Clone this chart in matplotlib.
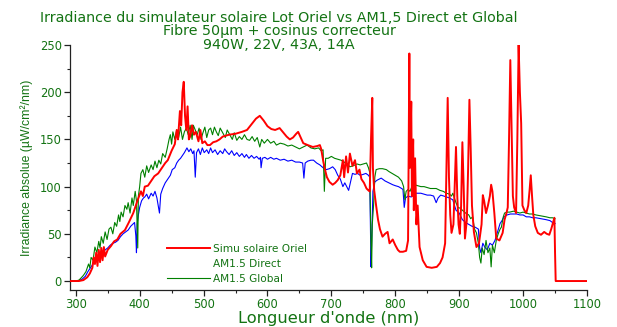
import matplotlib
matplotlib.use('Agg')
import matplotlib.pyplot as plt
from matplotlib.lines import Line2D
from matplotlib.ticker import MultipleLocator

# --- DONNEES ---
WL_SIMU = [290, 305, 312, 318, 322, 326, 328, 330, 332, 334, 336, 338, 340, 342, 344, 346,
           350, 355, 360, 365, 370, 377, 383, 390, 397, 402, 405, 408, 413, 418, 423, 429,
           435, 440, 444, 450, 455, 458, 460, 463, 465, 467, 469, 471, 473, 475, 477, 479,
           482, 485, 488, 492, 495, 498, 502, 506, 510, 515, 520, 525, 530, 540, 550, 560,
           568, 575, 582, 588, 594, 600, 606, 612, 619, 625, 630, 635, 640, 645, 648, 652,
           656, 663, 671, 678, 682, 684, 687, 690, 693, 697, 702, 706, 710, 714, 718, 720,
           723, 726, 729, 733, 737, 740, 744, 747, 751, 755, 758, 760, 762, 764, 765, 767,
           770, 773, 776, 780, 784, 788, 791, 796, 800, 804, 807, 812, 817, 820, 822, 823,
           825, 826, 828, 829, 831, 833, 835, 838, 843, 849, 857, 865, 870, 874, 878, 880,
           882, 884, 886, 888, 891, 893, 895, 897, 899, 901, 903, 905, 907, 909, 912, 914,
           916, 918, 920, 923, 927, 931, 935, 937, 939, 942, 945, 948, 950, 952, 955, 958,
           963, 968, 971, 974, 976, 978, 980, 982, 984, 986, 989, 991, 993, 995, 997, 999,
           1002, 1005, 1008, 1010, 1012, 1014, 1016, 1019, 1023, 1028, 1033, 1037, 1041, 1044,
           1047, 1049, 1050, 1051, 1100]
SIMU = [0, 0, 1, 4, 8, 14, 25, 18, 30, 16, 33, 20, 35, 22, 36, 26,
        33, 37, 42, 44, 50, 54, 62, 72, 86, 95, 90, 100, 101, 106, 111, 114,
        120, 125, 128, 138, 145, 160, 150, 180, 165, 200, 211, 175, 160, 185, 150, 153,
        165, 155, 158, 148, 160, 146, 148, 144, 144, 147, 148, 150, 153, 155, 156, 158,
        160, 166, 172, 175, 170, 164, 161, 160, 162, 157, 153, 150, 152, 156, 158, 152,
        146, 144, 142, 143, 144, 140, 128, 118, 110, 105, 102, 104, 107, 112, 128, 110,
        132, 115, 135, 122, 128, 114, 118, 108, 104, 98, 96, 95, 150, 194, 120, 96,
        80, 65, 55, 47, 50, 52, 40, 44, 38, 33, 31, 31, 32, 43, 241, 120,
        190, 90, 150, 75, 130, 60, 80, 36, 22, 15, 14, 15, 19, 25, 40, 120,
        194, 110, 70, 51, 60, 100, 142, 90, 60, 50, 80, 147, 100, 45, 65, 120,
        192, 140, 80, 52, 36, 40, 60, 91, 85, 72, 80, 90, 102, 95, 72, 45,
        43, 51, 65, 72, 78, 150, 234, 160, 90, 78, 72, 150, 250, 200, 167, 80,
        75, 72, 80, 95, 112, 90, 70, 58, 51, 49, 52, 50, 49, 55,
        62, 67, 30, 0, 0]

WL_GLOBAL = [290, 300, 305, 308, 312, 316, 320, 322, 324, 327, 330, 333, 336, 338, 340, 343,
             346, 349, 352, 355, 358, 361, 364, 367, 369, 371, 374, 377, 380, 382, 385, 388,
             390, 393, 395, 397, 398, 400, 402, 405, 408, 411, 414, 418, 421, 424, 427, 430,
             433, 436, 440, 443, 446, 448, 450, 452, 455, 458, 461, 464, 467, 470, 473, 476,
             479, 482, 484, 487, 490, 493, 496, 499, 502, 505, 508, 511, 514, 517, 520, 523,
             526, 530, 534, 537, 541, 545, 548, 552, 556, 560, 564, 568, 572, 576, 580, 584,
             588, 591, 595, 600, 605, 610, 614, 620, 626, 632, 638, 644, 650, 656, 662, 668,
             674, 680, 684, 687, 689, 691, 695, 700, 705, 710, 715, 720, 725, 729, 734, 740,
             745, 750, 755, 758, 760, 762, 763, 764, 766, 768, 770, 775, 780, 786, 790, 795,
             800, 805, 810, 813, 815, 817, 820, 823, 826, 830, 835, 840, 845, 850, 855, 860,
             864, 870, 875, 880, 885, 888, 890, 893, 895, 898, 902, 905, 910, 915, 918, 921,
             924, 927, 930, 932, 934, 936, 939, 942, 945, 948, 950, 952, 955, 958, 961, 964,
             966, 969, 971, 975, 979, 985, 990, 995, 1000, 1005, 1010, 1015, 1020, 1028, 1036,
             1042, 1046, 1050]
GLOBAL = [0, 0, 1, 3, 6, 10, 18, 14, 25, 22, 36, 30, 42, 35, 47, 40,
          52, 44, 55, 57, 50, 62, 58, 70, 63, 73, 68, 80, 76, 83, 72, 88,
          80, 95, 85, 35, 90, 100, 114, 118, 110, 122, 115, 123, 118, 127, 120, 128,
          124, 135, 131, 140, 150, 155, 145, 158, 150, 160, 152, 163, 150, 158, 162, 155,
          165, 150, 165, 160, 155, 162, 150, 157, 163, 152, 160, 162, 155, 163, 158, 154,
          162, 157, 152, 160, 155, 150, 157, 149, 153, 150, 155, 150, 149, 153, 148, 152,
          142, 150, 146, 150, 146, 148, 144, 146, 145, 143, 144, 142, 140, 142, 144, 141,
          140, 141, 138, 139, 95, 130, 130, 132, 130, 129, 128, 126, 124, 121, 122, 124,
          123, 124, 125, 120, 115, 40, 14, 60, 80, 110, 118, 119, 119, 118, 116, 114,
          112, 110, 106, 100, 86, 95, 97, 95, 100, 102, 101, 100, 100, 99, 98, 98,
          98, 96, 95, 93, 92, 90, 93, 87, 83, 78, 77, 75, 72, 70, 66, 68,
          55, 51, 40, 25, 19, 35, 28, 43, 30, 35, 15, 38, 30, 43, 50, 55,
          57, 68, 72, 73, 73, 74, 73, 72, 73, 72, 71, 71, 70, 69, 68,
          67, 67, 66]

WL_DIRECT = [290, 300, 305, 310, 315, 319, 323, 327, 331, 335, 339, 343, 346, 350, 354, 358,
             362, 366, 370, 374, 378, 382, 386, 389, 392, 394, 395, 396, 398, 400, 403, 406,
             408, 411, 414, 418, 421, 424, 427, 429, 431, 433, 436, 440, 444, 448, 451, 455,
             458, 461, 464, 467, 470, 474, 477, 480, 483, 485, 487, 489, 492, 495, 498, 501,
             505, 508, 511, 514, 518, 522, 526, 530, 533, 536, 540, 544, 548, 552, 556, 560,
             564, 567, 571, 575, 579, 583, 587, 589, 590, 592, 596, 600, 605, 610, 614, 620,
             626, 632, 638, 644, 650, 655, 657, 659, 663, 668, 672, 677, 682, 687, 692, 697,
             702, 706, 710, 714, 718, 721, 724, 727, 730, 733, 737, 741, 745, 750, 754, 758,
             760, 762, 763, 765, 768, 772, 778, 784, 790, 796, 800, 805, 810, 812, 814, 816,
             820, 825, 830, 835, 840, 845, 850, 855, 860, 864, 867, 871, 876, 880, 885, 890,
             895, 900, 905, 910, 915, 920, 925, 930, 932, 934, 937, 940, 944, 948, 952, 956,
             960, 964, 967, 970, 975, 980, 985, 990, 995, 1000, 1005, 1010, 1015, 1020, 1028,
             1036, 1042, 1046, 1050]
DIRECT = [0, 0, 0.5, 2, 5, 10, 14, 18, 22, 26, 28, 31, 33, 35, 38, 40,
          41, 43, 47, 50, 52, 54, 58, 60, 62, 48, 30, 60, 70, 78, 85, 88,
          89, 92, 87, 93, 90, 95, 88, 80, 72, 92, 98, 104, 108, 112, 118, 120,
          125, 128, 130, 133, 136, 141, 137, 140, 135, 138, 110, 136, 140, 134, 141, 136,
          139, 135, 141, 136, 139, 134, 138, 135, 140, 137, 134, 138, 133, 136, 132, 135,
          131, 134, 130, 133, 130, 132, 129, 131, 120, 130, 131, 129, 131, 129, 130, 128,
          129, 127, 128, 126, 126, 125, 109, 125, 127, 128, 128, 125, 123, 120, 118, 119,
          121, 118, 112, 108, 100, 104, 100, 96, 105, 114, 113, 114, 112, 113, 114, 112,
          110, 15, 40, 95, 105, 107, 109, 106, 104, 102, 101, 100, 98, 97, 78, 88,
          90, 89, 93, 93, 93, 92, 91, 91, 90, 83, 88, 91, 90, 89, 88, 86,
          75, 72, 65, 62, 60, 58, 57, 55, 35, 30, 40, 36, 33, 40, 38, 43,
          52, 61, 64, 68, 70, 71, 71, 71, 70, 70, 68, 68, 67, 67, 66,
          65, 64, 62, 61]

TITLE_LINES = ["Irradiance du simulateur solaire Lot Oriel vs AM1,5 Direct et Global",
               "Fibre 50µm + cosinus correcteur",
               "940W, 22V, 43A, 14A"]
LEGEND_LABELS = ["Simu solaire Oriel", "AM1.5 Direct", "AM1.5 Global"]

TXT = '#137313'


def main():
    plt.rcParams['font.family'] = ['DejaVu Sans']
    fig = plt.figure(figsize=(6.17, 3.27), dpi=100)
    ax = fig.add_axes([70 / 617, 1 - 290 / 327, 517 / 617, 245 / 327])

    l_simu, = ax.plot(WL_SIMU, SIMU, color='#ff0000', lw=1.4, zorder=3)
    l_dir, = ax.plot(WL_DIRECT, DIRECT, color='#0000ff', lw=0.8, zorder=2)
    l_glob, = ax.plot(WL_GLOBAL, GLOBAL, color='#008000', lw=0.8, zorder=2)

    ax.set_xlim(291, 1100)
    ax.set_ylim(-9.5, 250)
    ax.xaxis.set_major_locator(MultipleLocator(100))
    ax.xaxis.set_minor_locator(MultipleLocator(50))
    ax.yaxis.set_major_locator(MultipleLocator(50))
    ax.yaxis.set_minor_locator(MultipleLocator(25))
    ax.tick_params(which='major', length=4, width=0.9, colors='#222222',
                   labelcolor=TXT, labelsize=8.3, pad=2)
    ax.tick_params(which='minor', length=2.5, width=0.8, colors='#222222')
    for side in ['top', 'right']:
        ax.spines[side].set_visible(False)
    for side in ['left', 'bottom']:
        ax.spines[side].set_color('#222222')
        ax.spines[side].set_linewidth(0.9)

    ax.set_xlabel("Longueur d'onde (nm)", color=TXT, fontsize=11.7, labelpad=0)
    ax.set_ylabel("Irradiance absolue (µW/cm²/nm)", color=TXT, fontsize=8.8,
                  family='Liberation Sans', labelpad=5)

    for i, line in enumerate(TITLE_LINES):
        fig.text(279 / 617, 1 - (17.5 + 13.7 * i) / 327, line, color=TXT, fontsize=10.25,
                 ha='center', va='center')

    blank = Line2D([], [], color='none')
    ax.legend([l_simu, blank, l_glob], LEGEND_LABELS, loc='lower left',
              bbox_to_anchor=(0.17, -0.015), frameon=False, fontsize=7.6,
              labelcolor=TXT, handlelength=4, handletextpad=0.3, labelspacing=0.5)

    fig.savefig('out.png', dpi=100)


if __name__ == "__main__":
    main()
